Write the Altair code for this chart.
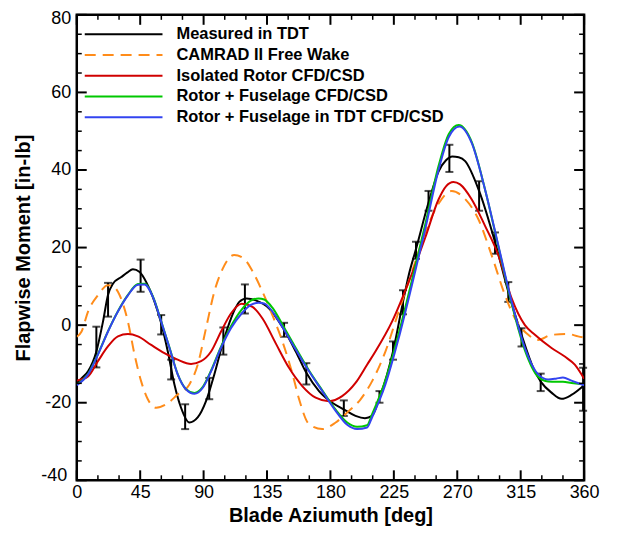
import altair as alt
import pandas as pd

# ---------------- data ----------------
meas_az = [0, 4, 8, 13.9, 18.6, 22.1, 25.7, 31.6, 36, 39.8, 44.6, 49.3, 55.2, 59.9, 64.6, 69.3, 74, 79.9,
           85.8, 91.7, 97.6, 104, 109.4, 115.3, 120.5, 127, 136.5, 147.1, 155.4, 162.9, 171.9, 181.3,
           189.5, 197.8, 204.5, 209.5, 214.8, 220.2, 224.4, 231.5, 235.5, 240.7, 249.6, 256.7, 262,
           266.5, 271, 275.6, 285.5, 296.8, 306.2, 315.6, 323.9, 329.5, 336.9, 344, 351, 360]
meas_val = [-15, -13.5, -11.9, -6.8, 0.9, 7.7, 10.7, 12.4, 13.6, 14.4, 13.7, 11.1, 6.0, 0.5, -6.8, -15.3,
            -21.3, -25.1, -23.8, -19.6, -12.7, -4.2, 1.7, 6.0, 6.9, 6.4, 4.3, -1.2, -6.8, -12.3, -17,
            -20, -21.7, -23.4, -24, -23.4, -18.7, -12.7, -6.8, 6.0, 12.8, 19.6, 31.6, 39.6, 42.5,
            43.5, 43.3, 42.3, 34.6, 21.4, 8.6, -2.5, -11, -14.7, -17.4, -19, -18, -15.5]

err_az = [13.9, 22.2, 45.3, 59.9, 67.0, 76.9, 94.0, 104.0, 119.3, 147.1, 162.9, 189.5, 214.8, 224.4,
          231.5, 240.7, 249.6, 264.4, 285.5, 296.8, 306.2, 315.6, 329.2, 359.3]
err_lo = [-10.9, 2.2, 8.6, -2.4, -14.0, -26.8, -19.1, -7.6, 3.0, -3.0, -15.3, -23.4, -20.0, -8.9,
          2.8, 17.1, 29.5, 39.5, 29.5, 18.4, 6.0, -5.5, -17.0, -22.1]
err_hi = [-0.4, 10.9, 16.9, 2.6, -8.9, -20.4, -13.6, -0.6, 10.5, 0.6, -9.8, -19.4, -17.0, -4.2,
          9.0, 21.5, 34.6, 46.5, 37.1, 23.9, 11.1, -0.8, -12.5, -11.0]

cam_az = [0, 3.3, 8, 15, 22.1, 25, 29.2, 36.3, 41, 45.7, 50.4, 56.3, 63.4, 71.6, 79.9, 85.8, 91.7, 97.6,
          103.5, 111.7, 118.8, 124.7, 131.8, 138.8, 145.9, 153, 157.7, 164.8, 174.2, 183.7, 193.1, 201,
          209.5, 219, 228.4, 237.8, 247.3, 256.7, 266.1, 275.6, 285, 294.4, 303.9, 311, 320.4, 327.4,
          336.9, 348.7, 355.7, 360]
cam_val = [-3, -1.7, 3.5, 7.7, 10.3, 10.2, 8.6, 0.9, -7.6, -14.5, -19.1, -21.3, -20.4, -17.9, -15.3,
           -10.2, -0.8, 8.6, 14.5, 18.1, 17.1, 13.9, 8.6, 2.6, -4.2, -12.5, -19, -25.5, -26.8, -25.1,
           -22.1, -19.3, -14.5, -6.8, 3.5, 13.7, 23.9, 31.3, 34.6, 32.5, 27.3, 18, 7.7, 1.7, -2.5,
           -3.8, -2.5, -2.3, -2.9, -3.2]

iso_az = [0, 8, 15, 22.1, 29.2, 36.3, 43.4, 52.8, 62.2, 71.6, 81.1, 88.2, 95.3, 102.3, 109.4, 117,
          124.7, 131.8, 141.2, 150.6, 160, 169.5, 178.9, 188.3, 197.8, 206, 211.9, 223.7, 235.5, 247.3,
          256.7, 262, 267.3, 272, 280.3, 289.7, 299.2, 308.6, 318, 325.1, 336.9, 346.3, 353.4, 360]
iso_val = [-14.3, -13.2, -9.3, -5.5, -2.9, -2.3, -2.9, -5.1, -7.2, -8.9, -10, -9.3, -6.8, -1.7, 3.0,
           5.5, 4.7, 1.7, -4.7, -11, -15.7, -18.7, -19.6, -18.3, -14.9, -10.2, -6.8, 0.9, 11.1, 22.6,
           32.4, 35.8, 36.9, 36.3, 32.4, 25.6, 18, 6.9, 0.0, -2.5, -5.9, -8.1, -10.2, -13.8]

fus_az = [0, 8, 15, 22.1, 29.2, 36.3, 43.4, 48.1, 54, 59.9, 65.8, 71.6, 77.6, 83.5, 89.3, 95.3, 102.3,
          109.4, 117, 123.5, 129, 133, 138.8, 147.1, 155.4, 164.8, 174.2, 183.7, 191.9, 198.9, 206,
          209.5, 219, 228.4, 237.8, 247.3, 256.7, 264, 271, 280.3, 289.7, 299.2, 308.6, 318, 327.4,
          334.5, 340, 345, 351, 360]
fus_val = [-15.3, -12.6, -7.5, -1.6, 3.6, 7.8, 10.6, 10.7, 7.4, 1.0, -5.8, -12.6, -16.5, -17.5, -16.0,
           -11.7, -5.6, -0.3, 4.0, 6.3, 6.9, 6.6, 4.5, -0.6, -5.9, -11.7, -16.8, -21.8, -25.1, -26.2,
           -25.8, -23.0, -14.2, -2.2, 11.5, 26.0, 41.0, 49.3, 51.6, 47.2, 35.0, 20.2, 5.5, -6.5,
           -13.3, -14.5, -14.6, -14.6, -14.9, -15.3]

tdt_az = [0, 8, 15, 22.1, 29.2, 36.3, 43.4, 48.1, 54, 59.9, 65.8, 71.6, 77.6, 83.5, 89.3, 95.3, 102.3,
          109.4, 117, 123.5, 129, 133, 138.8, 147.1, 155.4, 164.8, 174.2, 183.7, 191.9, 198.9, 206,
          209.5, 219, 228.4, 237.8, 247.3, 256.7, 264, 271.5, 280.3, 289.7, 299.2, 308.6, 318, 327.4,
          334.5, 340, 345, 351, 360]
tdt_val = [-15.5, -12.7, -7.6, -1.7, 3.5, 7.7, 10.4, 10.5, 7.3, 0.9, -5.9, -12.7, -16.6, -17.7, -16.2,
           -11.9, -5.9, -0.8, 3.0, 5.2, 5.8, 5.6, 3.5, -1.2, -6.3, -11.9, -17, -22.1, -25.7, -26.8,
           -26.4, -23.8, -15.3, -3.4, 10.3, 24.8, 40.0, 48.5, 51.2, 46.9, 35.0, 20.5, 6.0, -5.9,
           -12.7, -14.0, -13.8, -13.5, -14.3, -15.5]

series_names = ["Measured in TDT", "CAMRAD II Free Wake", "Isolated Rotor CFD/CSD",
                "Rotor + Fuselage CFD/CSD", "Rotor + Fuselage in TDT CFD/CSD"]
series_colors = ["#000000", "#FF8C1A", "#D00000", "#00C800", "#3344F0"]

x_major = [0, 45, 90, 135, 180, 225, 270, 315, 360]
x_minor = [15, 30, 60, 75, 105, 120, 150, 165, 195, 210, 240, 255, 285, 300, 330, 345]
y_major = [-40, -20, 0, 20, 40, 60, 80]
y_minor = [-35, -30, -25, -15, -10, -5, 5, 10, 15, 25, 30, 35, 45, 50, 55, 65, 70, 75]

# ---------------- layout ----------------
W, H = 509, 467
FONT = "Liberation Sans"
LABEL_EXPR = "datum.value < 0 ? '-' + abs(datum.value) : '' + datum.value"

xscale = alt.Scale(domain=[0, 360], nice=False, zero=False)
yscale = alt.Scale(domain=[-40, 80], nice=False, zero=False)

xaxis = alt.Axis(values=x_major, title="Blade Aziumuth [deg]", ticks=False, domain=False, grid=False,
                 labelFontSize=18, labelPadding=3, labelFlush=False, labelOverlap=False,
                 labelColor="black", labelExpr=LABEL_EXPR,
                 titleFontSize=20, titleFontWeight="bold", titleColor="black",
                 titleX=W / 2, titleY=41, titleBaseline="alphabetic", titleAnchor="middle")
yaxis = alt.Axis(values=y_major, title="Flapwise Moment [in-lb]", ticks=False, domain=False, grid=False,
                 labelFontSize=18, labelFlush=False, labelOverlap=False, labelColor="black",
                 labelExpr=LABEL_EXPR,
                 labelPadding={"condition": {"test": "datum.value === -40", "value": 10}, "value": 6},
                 labelOffset={"condition": [{"test": "datum.value === -40", "value": -5},
                                            {"test": "datum.value === 80", "value": 4}],
                              "value": 0},
                 titleFontSize=20, titleFontWeight="bold", titleColor="black",
                 titleX=-47, titleY=H / 2, titleBaseline="alphabetic", titleAngle=270)


def X(field):
    return alt.X(f"{field}:Q", scale=xscale, axis=xaxis)


def Y(field):
    return alt.Y(f"{field}:Q", scale=yscale, axis=yaxis)


def line_layer(az, val, color, dash=None):
    df = pd.DataFrame({"az": az, "val": val})
    kw = dict(color=color, strokeWidth=2, interpolate="monotone", clip=True)
    if dash:
        kw["strokeDash"] = dash
    return alt.Chart(df).mark_line(**kw).encode(x=X("az"), y=Y("val"))


layers = []

# error bars (measured)
err_df = pd.DataFrame({"az": err_az, "lo": err_lo, "hi": err_hi})
layers.append(alt.Chart(err_df).mark_rule(color="black", strokeWidth=2).encode(
    x=X("az"), y=Y("lo"), y2="hi"))
layers.append(alt.Chart(err_df).mark_tick(color="black", orient="horizontal", size=8, thickness=2).encode(
    x=X("az"), y=Y("lo")))
layers.append(alt.Chart(err_df).mark_tick(color="black", orient="horizontal", size=8, thickness=2).encode(
    x=X("az"), y=Y("hi")))

layers.append(line_layer(meas_az, meas_val, series_colors[0]))
layers.append(line_layer(cam_az, cam_val, series_colors[1], dash=[11, 7]))
layers.append(line_layer(iso_az, iso_val, series_colors[2]))
layers.append(line_layer(fus_az, fus_val, series_colors[3]))
layers.append(line_layer(tdt_az, tdt_val, series_colors[4]))

# inward ticks on all four sides
xmaj_df = pd.DataFrame({"az": x_major})
xmin_df = pd.DataFrame({"az": x_minor})
ymaj_df = pd.DataFrame({"val": y_major})
ymin_df = pd.DataFrame({"val": y_minor})
for df, ln, sw in [(xmaj_df, 10, 2), (xmin_df, 5, 1.5)]:
    layers.append(alt.Chart(df).mark_rule(color="black", strokeWidth=sw).encode(
        x=X("az"), y=alt.value(H), y2=alt.value(H - ln)))
    layers.append(alt.Chart(df).mark_rule(color="black", strokeWidth=sw).encode(
        x=X("az"), y=alt.value(0), y2=alt.value(ln)))
for df, ln, sw in [(ymaj_df, 10, 2), (ymin_df, 5, 1.5)]:
    layers.append(alt.Chart(df).mark_rule(color="black", strokeWidth=sw).encode(
        y=Y("val"), x=alt.value(0), x2=alt.value(ln)))
    layers.append(alt.Chart(df).mark_rule(color="black", strokeWidth=sw).encode(
        y=Y("val"), x=alt.value(W), x2=alt.value(W - ln)))

# legend (inside, top-left)
leg_y0, leg_dy = 19.5, 20.8
for i, (name, col) in enumerate(zip(series_names, series_colors)):
    yy = leg_y0 + i * leg_dy
    rule_kw = dict(color=col, strokeWidth=2)
    if i == 1:
        rule_kw["strokeDash"] = [11, 7]
    layers.append(alt.Chart(pd.DataFrame({"label": [name]})).mark_rule(**rule_kw).encode(
        x=alt.value(8), x2=alt.value(86), y=alt.value(yy)))
    layers.append(alt.Chart(pd.DataFrame({"label": [name]})).mark_text(
        font=FONT, fontSize=16.5, fontWeight="bold", align="left", baseline="middle", color="black").encode(
        x=alt.value(100), y=alt.value(yy), text="label:N"))

chart = alt.layer(*layers).properties(
    width=W, height=H,
    autosize=alt.AutoSizeParams(type="none"),
    padding={"left": 69, "top": 6, "right": 30, "bottom": 48},
).configure(font=FONT).configure_view(stroke="black", strokeWidth=2.5)

chart.save("out.html", embed_options={"renderer": "svg", "actions": False})
